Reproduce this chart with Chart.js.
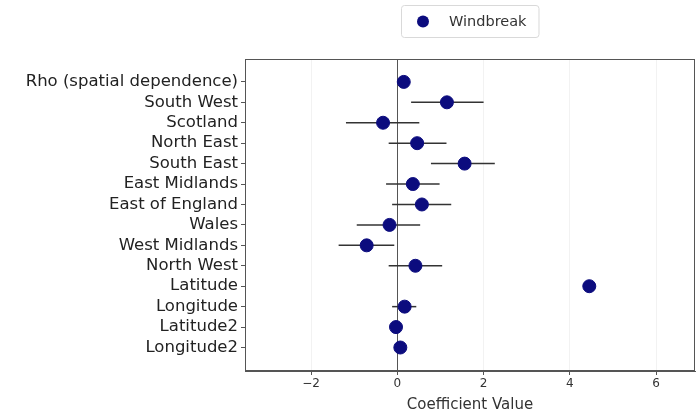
<!DOCTYPE html>
<html>
<head>
<meta charset="utf-8">
<script src="https://cdn.jsdelivr.net/npm/chart.js@4.4.0/dist/chart.umd.min.js"></script>
<style>
  html, body { margin: 0; padding: 0; background: #fff; }
  #wrap { width: 696px; height: 414px; position: relative; }
</style>
</head>
<body>
<div id="wrap"><canvas id="mycanvas" width="696" height="414"></canvas></div>
<script>
var categories = ["Rho (spatial dependence)", "South West", "Scotland", "North East", "South East",
  "East Midlands", "East of England", "Wales", "West Midlands", "North West",
  "Latitude", "Longitude", "Latitude2", "Longitude2"];
var coef = [0.15, 1.15, -0.33, 0.46, 1.56, 0.36, 0.57, -0.18, -0.71, 0.42, 4.45, 0.17, -0.03, 0.07];
var lower = [0.1, 0.32, -1.19, -0.2, 0.78, -0.26, -0.12, -0.94, -1.36, -0.2, 4.4, -0.12, -0.06, 0.03];
var upper = [0.2, 2.0, 0.51, 1.14, 2.26, 0.98, 1.25, 0.53, -0.07, 1.04, 4.5, 0.44, 0.0, 0.11];
var xTicks = [-2, 0, 2, 4, 6];
var seriesName = "Windbreak";

var points = [];
for (var i in categories) {
  points.push({ x: coef[i], y: Number(i) });
}

// error bars and the zero line, drawn under the points
var errorBars = {
  id: 'errorBars',
  beforeDatasetsDraw: function(chart) {
    var ctx = chart.ctx;
    var xs = chart.scales.x, ys = chart.scales.y;
    var a = chart.chartArea;
    ctx.save();
    ctx.beginPath();
    ctx.rect(a.left, a.top, a.right - a.left, a.bottom - a.top);
    ctx.clip();
    ctx.strokeStyle = "#555555";
    ctx.lineWidth = 1;
    var zx = Math.round(xs.getPixelForValue(0)) + 0.5;
    ctx.beginPath();
    ctx.moveTo(zx, a.top);
    ctx.lineTo(zx, a.bottom);
    ctx.stroke();
    ctx.strokeStyle = "#333333";
    ctx.lineWidth = 1.5;
    for (var i = 0; i < categories.length; i++) {
      var py = ys.getPixelForValue(i);
      ctx.beginPath();
      ctx.moveTo(xs.getPixelForValue(lower[i]), py);
      ctx.lineTo(xs.getPixelForValue(upper[i]), py);
      ctx.stroke();
    }
    ctx.restore();
  }
};

// box round the plot + framed legend centred over it
var frameAndLegend = {
  id: 'frameAndLegend',
  afterDraw: function(chart) {
    var ctx = chart.ctx;
    var a = chart.chartArea;
    ctx.save();
    ctx.strokeStyle = "#555555";
    ctx.lineWidth = 1;
    ctx.strokeRect(Math.round(a.left) + 0.5, Math.round(a.top) + 0.5,
      Math.round(a.right - a.left) - 1, Math.round(a.bottom - a.top) - 1);

    ctx.font = "14.5px 'DejaVu Sans'";
    var tw = ctx.measureText(seriesName).width;
    var w = tw + 60, h = 32;
    var x0 = Math.round((a.left + a.right) / 2 - w / 2), y0 = 5;
    ctx.strokeStyle = "#d9d9d9";
    ctx.beginPath();
    ctx.roundRect(x0 + 0.5, y0 + 0.5, w, h, 3);
    ctx.stroke();
    ctx.fillStyle = "#0c0c7e";
    ctx.beginPath();
    ctx.arc(x0 + 22, y0 + h / 2 + 0.5, 6, 0, Math.PI * 2);
    ctx.fill();
    ctx.fillStyle = "#333333";
    ctx.textBaseline = "middle";
    ctx.fillText(seriesName, x0 + 48, y0 + h / 2 + 1);
    ctx.restore();
  }
};

var ctx = document.getElementById("mycanvas");

var chart = new Chart(ctx, {
  type: 'scatter',
  data: {
    datasets: [{
      label: seriesName,
      data: points,
      backgroundColor: "#0c0c7e",
      borderColor: "#0c0c7e",
      pointRadius: 6.5,
      pointHoverRadius: 6.5
    }]
  },
  options: {
    responsive: false,
    animation: false,
    layout: { autoPadding: false, padding: { top: 59, right: 1, left: 0, bottom: 0 } },
    plugins: {
      legend: { display: false },
      tooltip: { enabled: false }
    },
    scales: {
      x: {
        type: 'linear',
        min: -3.53,
        max: 6.9,
        afterBuildTicks: function(scale) {
          scale.ticks = xTicks.map(function(v) { return { value: v }; });
        },
        afterFit: function(scale) { scale.height = 43; },
        border: { color: "#555555", width: 1 },
        grid: { color: "rgba(0,0,0,0.05)", tickColor: "#555555", tickLength: 4 },
        ticks: {
          color: "#333333",
          font: { family: "DejaVu Sans", size: 12 },
          padding: 2,
          maxRotation: 0,
          callback: function(v) { return v < 0 ? "\u2212" + Math.abs(v) : String(v); }
        },
        title: {
          display: true,
          text: "Coefficient Value",
          color: "#333333",
          font: { family: "DejaVu Sans", size: 15 },
          padding: { top: 0, bottom: 0 }
        }
      },
      y: {
        type: 'linear',
        reverse: true,
        min: -1.12,
        max: 14.15,
        afterBuildTicks: function(scale) {
          scale.ticks = categories.map(function(c, i) { return { value: i }; });
        },
        afterFit: function(scale) { scale.width = 245; },
        border: { color: "#555555", width: 1 },
        grid: { drawOnChartArea: false, tickColor: "#555555", tickLength: 4 },
        ticks: {
          color: "#222222",
          font: { family: "DejaVu Sans", size: 16.5 },
          padding: 3,
          autoSkip: false,
          callback: function(v) { return categories[v]; }
        }
      }
    }
  },
  plugins: [errorBars, frameAndLegend]
});
</script>
</body>
</html>
